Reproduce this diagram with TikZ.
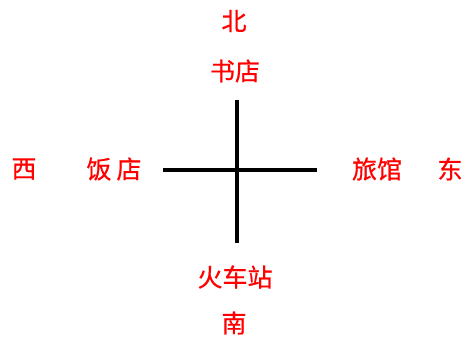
\documentclass[tikz,border=0pt]{standalone}
\usepackage{fontspec}
\newfontfamily\cjk[FakeBold=0.6]{Noto Sans CJK SC}
\usepackage{tikz}
\usetikzlibrary{positioning}
\tikzstyle{place} = [text=red, inner sep=0pt, font=\cjk\fontsize{25}{25}\selectfont]
\tikzstyle{road} = [line width=3.2pt, black]

\begin{document}
\begin{tikzpicture}[x=1pt, y=-1pt]
  \useasboundingbox (0,0) rectangle (463,341);
  % places
  \node[place] (north) at (234,21) {北};
  \node[place] (shop) at (235,71) {书店};
  \node[place] (west) at (24,169) {西};
  \node[place] (rest) at (114,169) {饭\hspace{5pt}店};
  \node[place] (hotel) at (377,169) {旅馆};
  \node[place] (east) at (450,169) {东};
  \node[place] (station) at (235,277) {火车站};
  \node[place] (south) at (234,323) {南};
  % roads
  \coordinate (top) at (237,100);
  \coordinate (bot) at (237,243);
  \coordinate (left) at (163,170);
  \coordinate (right) at (317,170);
  \draw[road] (top) -- (bot);
  \draw[road] (left) -- (right);
\end{tikzpicture}
\end{document}
